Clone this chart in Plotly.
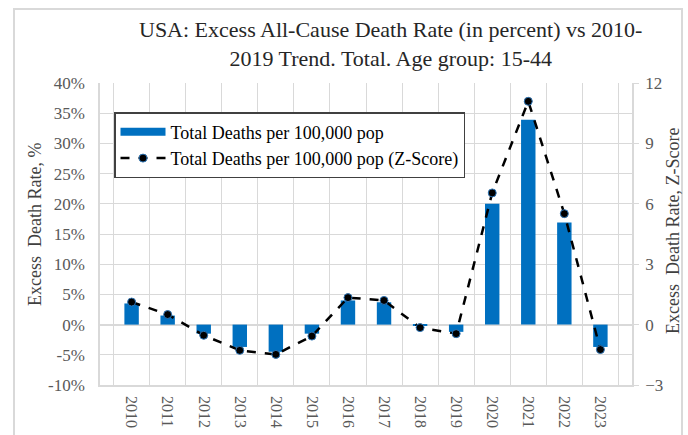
import plotly.graph_objects as go

years = [str(y) for y in range(2010, 2024)]
excess_pct = [3.5, 1.5, -1.5, -3.7, -4.5, -1.5, 4.0, 3.7, -0.2, -1.2, 20.0, 33.9, 16.9, -3.7]
z_score = [1.12, 0.5, -0.53, -1.28, -1.48, -0.57, 1.34, 1.2, -0.15, -0.45, 6.54, 11.09, 5.51, -1.24]

left_ticks = list(range(-10, 41, 5))
right_ticks = list(range(-3, 13, 3))

FONT = "Liberation Serif"
GRID = "#d9d9d9"
TICKC = "#595959"
BLUE = "#0070C0"

L, R, T, B = 100, 632, 83, 385
PW, PH = R - L, B - T


def px(x):
    return (x - L) / PW


def py(y):
    return (B - y) / PH


fig = go.Figure()
fig.add_trace(go.Bar(
    x=years, y=excess_pct, name="Total Deaths per 100,000 pop", showlegend=False,
    marker=dict(color=BLUE, line=dict(width=0)), width=0.4, yaxis="y"))
# legend entry drawn as a wide flat bar, like the reference
fig.add_trace(go.Scatter(
    x=[None], y=[None], name="Total Deaths per 100,000 pop", mode="lines",
    line=dict(color=BLUE, width=8), yaxis="y"))
fig.add_trace(go.Scatter(
    x=years, y=z_score, name="Total Deaths per 100,000 pop (Z-Score)",
    mode="lines+markers", yaxis="y2",
    line=dict(color="black", width=2.5, dash="dash"),
    marker=dict(color="black", size=8, line=dict(color="#2E75B6", width=1))))

fig.update_layout(
    width=688, height=435,
    paper_bgcolor="white", plot_bgcolor="white",
    margin=dict(l=L, r=688 - R, t=T, b=435 - B, autoexpand=False),
    font=dict(family=FONT, color=TICKC),
    showlegend=True,
    legend=dict(x=px(114), y=py(112), xanchor="left", yanchor="top",
                bgcolor="white", bordercolor="#404040", borderwidth=1.5,
                font=dict(family=FONT, size=18, color="black"),
                itemwidth=45, tracegroupgap=0),
    xaxis=dict(type="category", tickson="boundaries", showgrid=True,
               gridcolor=GRID, gridwidth=1, tickangle=90, automargin=False,
               tickfont=dict(family=FONT, size=16, color=TICKC),
               ticklabelstandoff=6,
               showline=True, linecolor=GRID, linewidth=1.5, ticks=""),
    yaxis=dict(range=[-10, 40], tickvals=left_ticks, automargin=False,
               ticktext=[f"{v}%" for v in left_ticks],
               showgrid=True, gridcolor=GRID, gridwidth=1,
               zeroline=True, zerolinecolor=GRID, zerolinewidth=1.5,
               showline=True, linecolor=GRID, linewidth=1.5,
               ticklabelstandoff=10,
               tickfont=dict(family=FONT, size=17, color=TICKC)),
    yaxis2=dict(range=[-3, 12], tickvals=right_ticks, overlaying="y", side="right",
                showgrid=False, zeroline=False, automargin=False,
                showline=True, linecolor=GRID, linewidth=1.5,
                ticks="outside", ticklen=5, tickcolor=GRID,
                ticklabelstandoff=3,
                tickfont=dict(family=FONT, size=17, color=TICKC)),
    bargap=0.6,
)

fig.add_annotation(
    text="USA: Excess All-Cause Death Rate (in percent) vs 2010-<br>2019 Trend. Total. Age group: 15-44",
    xref="paper", yref="paper", x=px(390), y=py(44), xanchor="center", yanchor="middle",
    showarrow=False, align="center",
    font=dict(family=FONT, size=22, color="#262626"))

fig.add_annotation(
    text="Excess  Death Rate, %", textangle=-90,
    xref="paper", yref="paper", x=px(35), y=py(225), xanchor="center", yanchor="middle",
    showarrow=False, font=dict(family=FONT, size=18, color="#404040"))

fig.add_annotation(
    text="Excess  Death Rate, Z-Score", textangle=-90,
    xref="paper", yref="paper", x=px(673), y=py(231), xanchor="center", yanchor="middle",
    showarrow=False, font=dict(family=FONT, size=18, color="#404040"))

fig.add_shape(type="rect", xref="paper", yref="paper",
              x0=px(14), x1=px(682), y0=py(445), y1=py(9),
              line=dict(color="#d9d9d9", width=2), fillcolor="rgba(0,0,0,0)", layer="below")

fig.write_html("out.html", config={"displayModeBar": False},
               post_script="document.body.style.margin='0';")
